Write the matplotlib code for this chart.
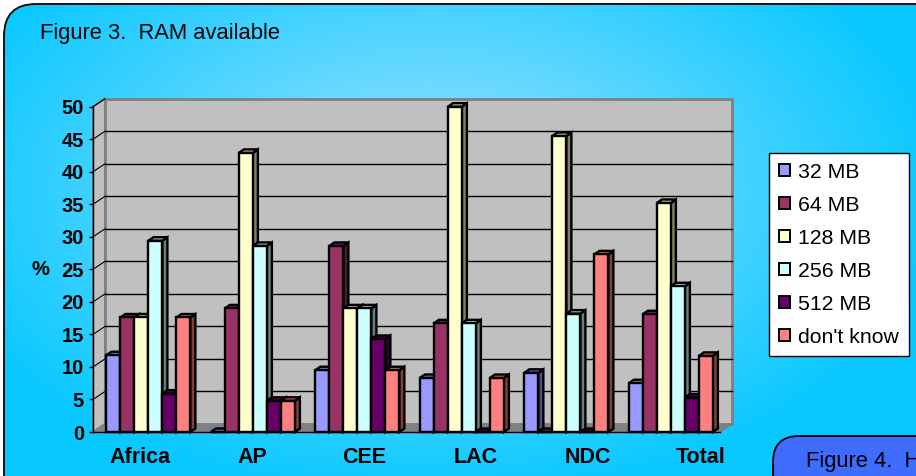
import numpy as np
import matplotlib
matplotlib.use("Agg")
import matplotlib.pyplot as plt
from matplotlib.patches import Polygon, FancyBboxPatch, Patch, Rectangle
from matplotlib.colors import to_rgb

plt.rcParams["font.family"] = ["Liberation Sans", "DejaVu Sans"]

# % of respondents per region, one list per RAM size
regions = ["Africa", "AP", "CEE", "LAC", "NDC", "Total"]
ram_labels = ["32 MB", "64 MB", "128 MB", "256 MB", "512 MB", "don't know"]
mb32 = [11.8, 0.0, 9.5, 8.3, 9.1, 7.5]
mb64 = [17.6, 19.0, 28.6, 16.7, 0.0, 18.1]
mb128 = [17.6, 42.9, 19.0, 50.0, 45.5, 35.2]
mb256 = [29.4, 28.6, 19.0, 16.7, 18.2, 22.4]
mb512 = [5.9, 4.8, 14.3, 0.0, 0.0, 5.3]
dont_know = [17.6, 4.8, 9.5, 8.3, 27.3, 11.7]
yticks = list(range(0, 55, 5))

series = [mb32, mb64, mb128, mb256, mb512, dont_know]
colors = ["#9999ff", "#993366", "#ffffcc", "#ccffff", "#660066", "#ff8080"]

W, H = 916, 476
fig = plt.figure(figsize=(W / 100, H / 100), dpi=100)
fig.patch.set_facecolor("white")

# panel background: light centre fading to cyan
bg = fig.add_axes([0, 0, 1, 1])
bg.set_xlim(0, W)
bg.set_ylim(H, 0)
bg.axis("off")
yy, xx = np.mgrid[0:H, 0:W]
t = np.clip(np.hypot((xx - 430) / 520, (yy - 190) / 310), 0, 1)[..., None]
light = np.array(to_rgb("#a0e2ff"))
edge = np.array(to_rgb("#08c8ff"))
img = light * (1 - t) + edge * t
im = bg.imshow(img, extent=(0, W, H, 0), aspect="auto", zorder=0)
frame = FancyBboxPatch((4, 4), W + 40, H + 40,
                       boxstyle="round,pad=0,rounding_size=32",
                       fc="none", ec="black", lw=1.3, zorder=1)
bg.add_patch(frame)
im.set_clip_path(frame)
bg.text(40, 33, "Figure 3.  RAM available", fontsize=15.8, va="center", ha="left")

# next figure's panel peeking in at the corner (runs off the page edge)
nxt = FancyBboxPatch((773, 436), 300, 100,
                     boxstyle="round,pad=0,rounding_size=26",
                     fc="#3d6cff", ec="black", lw=1.3, zorder=2)
bg.add_patch(nxt)
bg.text(806, 462, "Figure 4.  H", fontsize=15.8, va="center", ha="left", zorder=3)

# front plane of the 3-D chart
X0, X1, Y0, Y50 = 93, 720, 432, 106.7
ax = fig.add_axes([X0 / W, 1 - Y0 / H, (X1 - X0) / W, (Y0 - Y50) / H])
xmin, xmax = -0.53, 5.47
ax.set_xlim(xmin, xmax)
ax.set_ylim(0, 50)
ax.patch.set_alpha(0)
sx = (X1 - X0) / (xmax - xmin)
sy = (Y0 - Y50) / 50
ddx, ddy = 12 / sx, 8 / sy      # wall depth
bdx, bdy = 5 / sx, 3.5 / sy     # bar depth

wall = "#c0c0c0"
wall_edge = "#808080"
ax.add_patch(Rectangle((xmin + ddx, ddy), xmax - xmin, 50, fc=wall, ec=wall_edge,
                       lw=2, zorder=1, clip_on=False))
ax.add_patch(Polygon([(xmin, 0), (xmin + ddx, ddy), (xmin + ddx, 50 + ddy), (xmin, 50)],
                     fc=wall, ec=wall_edge, lw=1.5, zorder=1, clip_on=False))
ax.add_patch(Polygon([(xmin, 0), (xmax, 0), (xmax + ddx, ddy), (xmin + ddx, ddy)],
                     fc=wall_edge, ec=wall_edge, lw=1, zorder=1, clip_on=False))
for y in yticks[1:-1]:
    ax.plot([xmin + ddx, xmax + ddx], [y + ddy, y + ddy], color="black", lw=1,
            zorder=1.5, clip_on=False)
for y in yticks[1:]:
    ax.plot([xmin, xmin + ddx], [y, y + ddy], color="black", lw=0.8,
            zorder=1.5, clip_on=False)

bw = 0.134
x = np.arange(len(regions))
for j, (vals, c) in enumerate(zip(series, colors)):
    rgb = np.array(to_rgb(c))
    left = x - 3 * bw + j * bw
    z = 3 + j
    for xl, v in zip(left, vals):
        xr = xl + bw
        ax.add_patch(Polygon([(xr, 0), (xr + bdx, bdy), (xr + bdx, v + bdy), (xr, v)],
                             fc=rgb * 0.5, ec="black", lw=1.7, zorder=z, clip_on=False))
        ax.add_patch(Polygon([(xl, v), (xr, v), (xr + bdx, v + bdy), (xl + bdx, v + bdy)],
                             fc=rgb * 0.78, ec="black", lw=1.7, zorder=z, clip_on=False))
    ax.bar(left, vals, width=bw, align="edge", color=c, edgecolor="black",
           lw=1.7, zorder=z + 0.5, clip_on=False)

for side in ("top", "right"):
    ax.spines[side].set_visible(False)
for side in ("left", "bottom"):
    ax.spines[side].set_color("black")
    ax.spines[side].set_linewidth(1)
    ax.spines[side].set_zorder(2)

ax.set_yticks(yticks)
ax.set_yticklabels([str(v) for v in yticks], fontweight="bold", fontsize=14.5)
ax.tick_params(axis="y", direction="out", length=3, width=1, pad=3.5)
label_pos = -0.08 + 1.072 * x
ax.set_xticks(label_pos)
ax.set_xticklabels(regions, fontweight="bold", fontsize=15.5)
ax.tick_params(axis="x", length=0, pad=11)
ax.set_ylabel("%", rotation=0, fontweight="bold", fontsize=14.5, va="center", ha="center")
ax.yaxis.set_label_coords(-0.0845, 0.5)

handles = [Patch(fc=c, ec="black", lw=1.4, label=l) for c, l in zip(colors, ram_labels)]
leg = fig.legend(handles=handles, loc="upper left", bbox_to_anchor=(769 / W, 1 - 153 / H),
                 frameon=True, fancybox=False, edgecolor="black", framealpha=1,
                 fontsize=15.3, handlelength=0.52, handleheight=0.52, handletextpad=0.4,
                 labelspacing=0.66, borderpad=0.45, borderaxespad=0)
leg.get_frame().set_linewidth(1)

fig.savefig("out.png", dpi=100)
